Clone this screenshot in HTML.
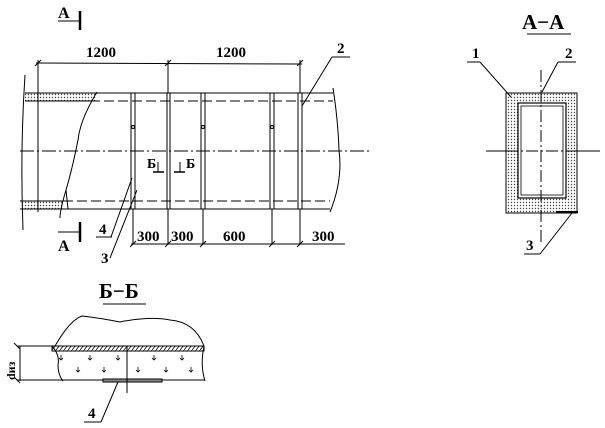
<!DOCTYPE html>
<html><head><meta charset="utf-8"><style>
html,body{margin:0;padding:0;background:#fff;width:605px;height:428px;overflow:hidden}
svg{display:block}
text{font-family:"Liberation Serif",serif;fill:#000;font-weight:bold}
</style></head><body>
<svg width="605" height="428" viewBox="0 0 605 428" xmlns="http://www.w3.org/2000/svg">
<defs>
<pattern id="dots" width="3" height="3" patternUnits="userSpaceOnUse"><rect width="3" height="3" fill="#fff"/><circle cx="1.5" cy="1.5" r="0.7" fill="#444"/></pattern>
<pattern id="hat" width="4" height="5" patternUnits="userSpaceOnUse"><rect width="4" height="5" fill="#fff"/><line x1="0" y1="5" x2="4" y2="0" stroke="#000" stroke-width="0.8"/></pattern>
</defs>
<g stroke="#000" fill="none" stroke-width="1">
<rect x="25" y="93" width="72" height="8" fill="url(#dots)" stroke="none"/>
<rect x="20" y="201" width="43" height="8" fill="url(#dots)" stroke="none"/>
<path d="M25 75 Q20 150 23 230"/>
<line x1="38" y1="60" x2="38" y2="212"/>
<line x1="25" y1="93" x2="333" y2="93"/>
<line x1="25" y1="101" x2="97" y2="101"/>
<line x1="20" y1="209" x2="330" y2="209"/>
<line x1="20" y1="201" x2="63" y2="201"/>
<line x1="90" y1="101" x2="333" y2="101" stroke-dasharray="10,4"/>
<line x1="63" y1="201" x2="330" y2="201" stroke-dasharray="10,4"/>
<path d="M97 92 Q80 120 78 140 Q72 170 66 190 Q60 210 60 218"/>
<path d="M333 88 Q338 120 339 150 Q343 180 330 212"/>
<line x1="66" y1="190" x2="68" y2="209"/>
<line x1="20" y1="151" x2="370" y2="151" stroke-dasharray="14,3,2,3"/>
<rect x="131" y="93" width="4" height="116"/>
<rect x="167" y="93" width="3" height="116"/>
<rect x="201" y="93" width="4" height="116"/>
<rect x="270" y="93" width="4" height="116"/>
<rect x="298" y="93" width="4" height="116"/>
<circle cx="133" cy="127" r="1.5"/><circle cx="203" cy="127" r="1.5"/><circle cx="272" cy="127" r="1.5"/>
<line x1="36" y1="63" x2="302" y2="64"/>
<line x1="168" y1="60" x2="168" y2="93"/>
<line x1="300" y1="60" x2="300" y2="93"/>
<line x1="35" y1="66" x2="41" y2="60"/><line x1="165" y1="66" x2="171" y2="60"/><line x1="297" y1="66" x2="303" y2="60"/>
<line x1="131" y1="244" x2="345" y2="244"/>
<line x1="133" y1="209" x2="133" y2="244"/><line x1="168" y1="209" x2="168" y2="244"/>
<line x1="203" y1="209" x2="203" y2="244"/><line x1="272" y1="209" x2="272" y2="244"/>
<line x1="300" y1="209" x2="300" y2="244"/>
<line x1="130" y1="247" x2="136" y2="241"/><line x1="165" y1="247" x2="171" y2="241"/><line x1="200" y1="247" x2="206" y2="241"/><line x1="269" y1="247" x2="275" y2="241"/><line x1="297" y1="247" x2="303" y2="241"/>
<line x1="80" y1="11" x2="80" y2="30" stroke-width="2.5"/><line x1="58" y1="21" x2="80" y2="21"/>
<line x1="80" y1="222" x2="80" y2="242" stroke-width="2.5"/><line x1="58" y1="232" x2="80" y2="232"/>
<line x1="153" y1="172" x2="164" y2="172" stroke-width="1.5"/><line x1="158" y1="162" x2="158" y2="172"/>
<line x1="174" y1="172" x2="185" y2="172" stroke-width="1.5"/><line x1="180" y1="162" x2="180" y2="172"/>
<line x1="332" y1="57" x2="350" y2="57"/><line x1="332" y1="57" x2="302" y2="106"/>
<line x1="96" y1="237" x2="112" y2="237"/><line x1="111" y1="237" x2="132" y2="178"/>
<line x1="110" y1="258" x2="137" y2="190"/>
<rect x="506" y="93" width="71" height="120" fill="url(#dots)"/>
<rect x="518" y="103" width="48" height="95" fill="#fff" stroke-width="1.2"/>
<rect x="521" y="106" width="42" height="89" stroke-width="0.8"/>
<line x1="541" y1="70" x2="541" y2="243" stroke-dasharray="12,3,2,3"/>
<line x1="486" y1="151" x2="506" y2="151"/><line x1="506" y1="151" x2="577" y2="151" stroke-dasharray="12,3,2,3"/><line x1="577" y1="151" x2="600" y2="151"/>
<line x1="527" y1="34" x2="571" y2="34"/>
<line x1="467" y1="62" x2="480" y2="62"/><line x1="480" y1="62" x2="511" y2="97"/>
<line x1="558" y1="62" x2="576" y2="62"/><line x1="558" y1="62" x2="542" y2="92"/>
<line x1="524" y1="254" x2="540" y2="254"/><line x1="540" y1="254" x2="572" y2="213"/>
<line x1="556" y1="212" x2="578" y2="212" stroke-width="2"/>
<line x1="103" y1="304" x2="146" y2="304"/>
<rect x="52" y="346" width="152" height="5" fill="url(#hat)"/>
<path d="M55 346 Q70 320 82 316 Q100 318 120 322 Q150 316 170 320 Q195 322 204 346"/>
<path d="M52 346 Q60 355 58 365 Q58 375 63 381"/>
<path d="M204 346 Q200 365 205 381"/>
<line x1="17" y1="346" x2="52" y2="346"/>
<line x1="17" y1="380" x2="205" y2="380"/>
<line x1="20" y1="346" x2="20" y2="381"/>
<line x1="14" y1="343" x2="20" y2="349"/><line x1="14" y1="377" x2="20" y2="383"/>
<rect x="103" y="379" width="59" height="3" fill="#888"/>
<line x1="127" y1="346" x2="127" y2="393"/>
<line x1="84" y1="422" x2="101" y2="422"/><line x1="101" y1="422" x2="118" y2="382"/>
<g stroke-width="0.8">
<path d="M61 355v5m-2-2l2 2l2-2M90 355v5m-2-2l2 2l2-2M118 355v5m-2-2l2 2l2-2M154 355v5m-2-2l2 2l2-2M182 355v5m-2-2l2 2l2-2"/>
<path d="M78 367v5m-2-2l2 2l2-2M104 367v5m-2-2l2 2l2-2M138 367v5m-2-2l2 2l2-2M166 367v5m-2-2l2 2l2-2M191 367v5m-2-2l2 2l2-2"/>
</g>
</g>
<g font-size="15">
<text x="86" y="57">1200</text><text x="216" y="57">1200</text>
<text x="137" y="241">300</text><text x="171" y="241">300</text><text x="223" y="241">600</text><text x="312" y="241">300</text>
<text x="337" y="53">2</text>
<text x="99" y="234">4</text><text x="101" y="263">3</text>
<text x="472" y="58">1</text><text x="565" y="58">2</text><text x="526" y="250">3</text>
<text x="88" y="418">4</text>
</g>
<g font-size="16">
<text x="58" y="18">A</text><text x="58" y="251">A</text>
</g>
<g font-size="14">
<text x="147" y="168">Б</text><text x="186" y="168">Б</text>
</g>
<text x="522" y="29" font-size="21" font-weight="normal">A−A</text>
<text x="99" y="298" font-size="21" font-weight="normal">Б−Б</text>
<text transform="translate(15,380) rotate(-90)" font-size="12">dиз</text>
</svg>
</body></html>
